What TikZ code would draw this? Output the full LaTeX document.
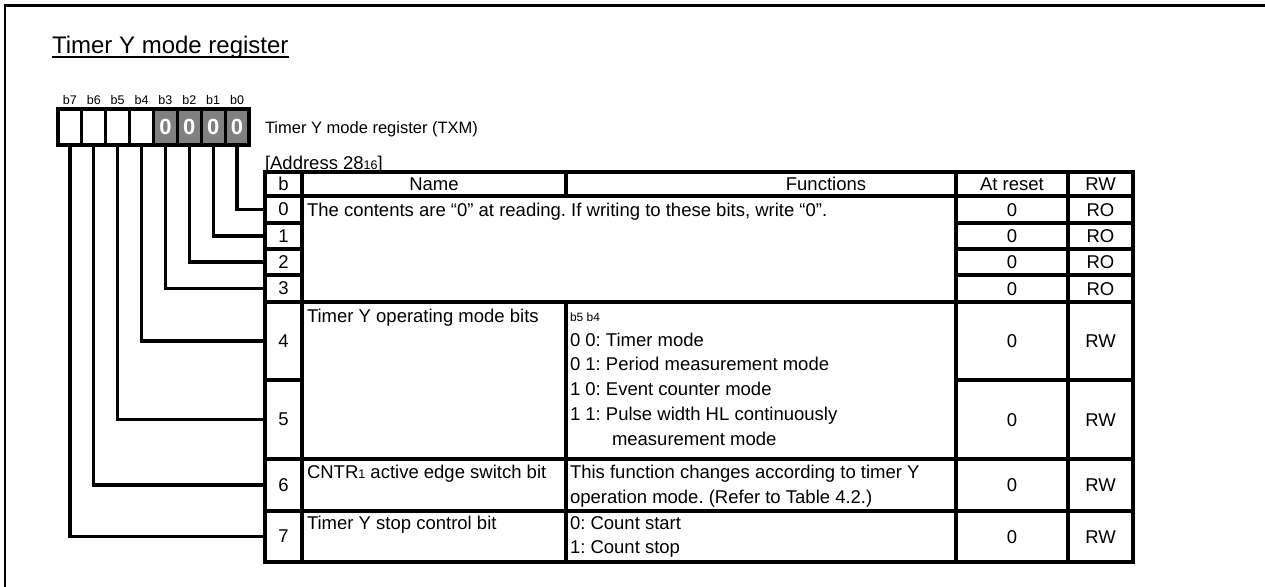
\documentclass[tikz,border=0pt]{standalone}
\usepackage{fontspec}
\setmainfont{Liberation Sans}
\frenchspacing
\newcommand\fsz[1]{\fontsize{#1}{#1}\selectfont}
\definecolor{cellgray}{RGB}{128,128,128}
\begin{document}
\begin{tikzpicture}[x=1pt,y=-1pt,line width=3.2pt,
  txt/.style={inner sep=0pt,outer sep=0pt,font=\fsz{18.5}},
  lt/.style={txt,anchor=base west},
  ct/.style={txt,anchor=base},
  small/.style={inner sep=0pt,outer sep=0pt,font=\fsz{12.5},anchor=base},
  bitcell/.style={draw,minimum width=23.875pt,minimum height=36pt,inner sep=0pt,outer sep=0pt},
  zerocell/.style={bitcell,fill=cellgray,text=white,font=\bfseries\fsz{22}},
  bcell/.style={draw,minimum width=37pt,inner sep=0pt,outer sep=0pt,font=\fsz{18.5}},
  conn/.style={line width=3.2pt}]
\useasboundingbox (0,0) rectangle (1265,586);
% outer frame
\draw[line width=2.8pt] (5,590) -- (5,5.5) -- (1270,5.5);
% title
\node[inner sep=0pt,outer sep=0pt,font=\fsz{24},anchor=base west] (title) at (52,53) {Timer Y mode register};
\draw[line width=1.4pt] (title.base west) ++(0,4) -- ++(237,0);
% bit labels and cells
\foreach \i/\b in {0/7,1/6,2/5,3/4,4/3,5/2,6/1,7/0}{
  \node[small] (l\b) at ({58+23.875*(\i+0.5)},104.5) {b\b};
}
\node[bitcell] (c7) at ({58+23.875*0.5},127) {};
\node[bitcell] (c6) at ({58+23.875*1.5},127) {};
\node[bitcell] (c5) at ({58+23.875*2.5},127) {};
\node[bitcell] (c4) at ({58+23.875*3.5},127) {};
\node[zerocell] (c3) at ({58+23.875*4.5},127) {0};
\node[zerocell] (c2) at ({58+23.875*5.5},127) {0};
\node[zerocell] (c1) at ({58+23.875*6.5},127) {0};
\node[zerocell] (c0) at ({58+23.875*7.5},127) {0};
% register name
\node[lt,font=\fsz{16.5}] (reg) at (265,133) {Timer Y mode register (TXM)};
\node[lt,font=\fsz{18.5}] (addr) at (265,169) {[Address 28{\fsz{12.5}16}]};
% table grid
\draw (265,172) rectangle (1133,562);
\draw (265,196) -- (1133,196);
\draw (265,302) -- (1133,302);
\draw (265,459) -- (1133,459);
\draw (265,511) -- (1133,511);
\draw (956,223) -- (1133,223);
\draw (956,249) -- (1133,249);
\draw (956,275) -- (1133,275);
\draw (956,380) -- (1133,380);
\draw (302,172) -- (302,562);
\draw (566,172) -- (566,196);
\draw (566,302) -- (566,562);
\draw (956,172) -- (956,562);
\draw (1068,172) -- (1068,562);
% b column cells
\node[bcell,minimum height=24pt] (rh) at (283.5,184) {b};
\node[bcell,minimum height=27pt] (r0) at (283.5,209.5) {0};
\node[bcell,minimum height=26pt] (r1) at (283.5,236) {1};
\node[bcell,minimum height=26pt] (r2) at (283.5,262) {2};
\node[bcell,minimum height=27pt] (r3) at (283.5,288.5) {3};
\node[bcell,minimum height=78pt] (r4) at (283.5,341) {4};
\node[bcell,minimum height=79pt] (r5) at (283.5,419.5) {5};
\node[bcell,minimum height=52pt] (r6) at (283.5,485) {6};
\node[bcell,minimum height=51pt] (r7) at (283.5,536.5) {7};
% connectors
\foreach \k in {0,...,7}{
  \draw[conn] (c\k.south) |- (r\k.west);
}
% header
\node[ct] (hname) at (434,190.6) {Name};
\node[ct] (hfun) at (826,190.6) {Functions};
\node[ct] (hres) at (1012,190.6) {At reset};
\node[ct] (hrw) at (1100.5,190.6) {RW};
% rows 0-3
\node[lt] (t0) at (307,216.1) {The contents are “0” at reading. If writing to these bits, write “0”.};
\foreach \k/\yy in {0/216.1,1/242.6,2/268.6,3/295.1,4/347.6,5/426.1,6/491.6,7/543.1}{
  \node[ct] (a\k) at (1012,\yy) {0};
}
\foreach \k/\yy in {0/216.1,1/242.6,2/268.6,3/295.1}{
  \node[ct] (w\k) at (1100.5,\yy) {RO};
}
\foreach \k/\yy in {4/347.6,5/426.1,6/491.6,7/543.1}{
  \node[ct] (w\k) at (1100.5,\yy) {RW};
}
% row 4-5
\node[lt] (n4) at (307,322.6) {Timer Y operating mode bits};
\node[inner sep=0pt,outer sep=0pt,font=\fsz{12},anchor=base west] (f4a) at (570,321) {b5 b4};
\node[lt] (f4b) at (570,346.6) {0 0: Timer mode};
\node[lt] (f4c) at (570,370.6) {0 1: Period measurement mode};
\node[lt] (f4d) at (570,395.6) {1 0: Event counter mode};
\node[lt] (f4e) at (570,420.6) {1 1: Pulse width HL continuously};
\node[lt] (f4f) at (612,445.6) {measurement mode};
% row 6
\node[lt] (n6) at (307,478.6) {CNTR{\fsz{12.5}1} active edge switch bit};
\node[lt] (f6a) at (570,478.6) {This function changes according to timer Y};
\node[lt] (f6b) at (570,503.6) {operation mode. (Refer to Table 4.2.)};
% row 7
\node[lt] (n7) at (307,529.6) {Timer Y stop control bit};
\node[lt] (f7a) at (570,529.6) {0: Count start};
\node[lt] (f7b) at (570,553.6) {1: Count stop};
\end{tikzpicture}
\end{document}
